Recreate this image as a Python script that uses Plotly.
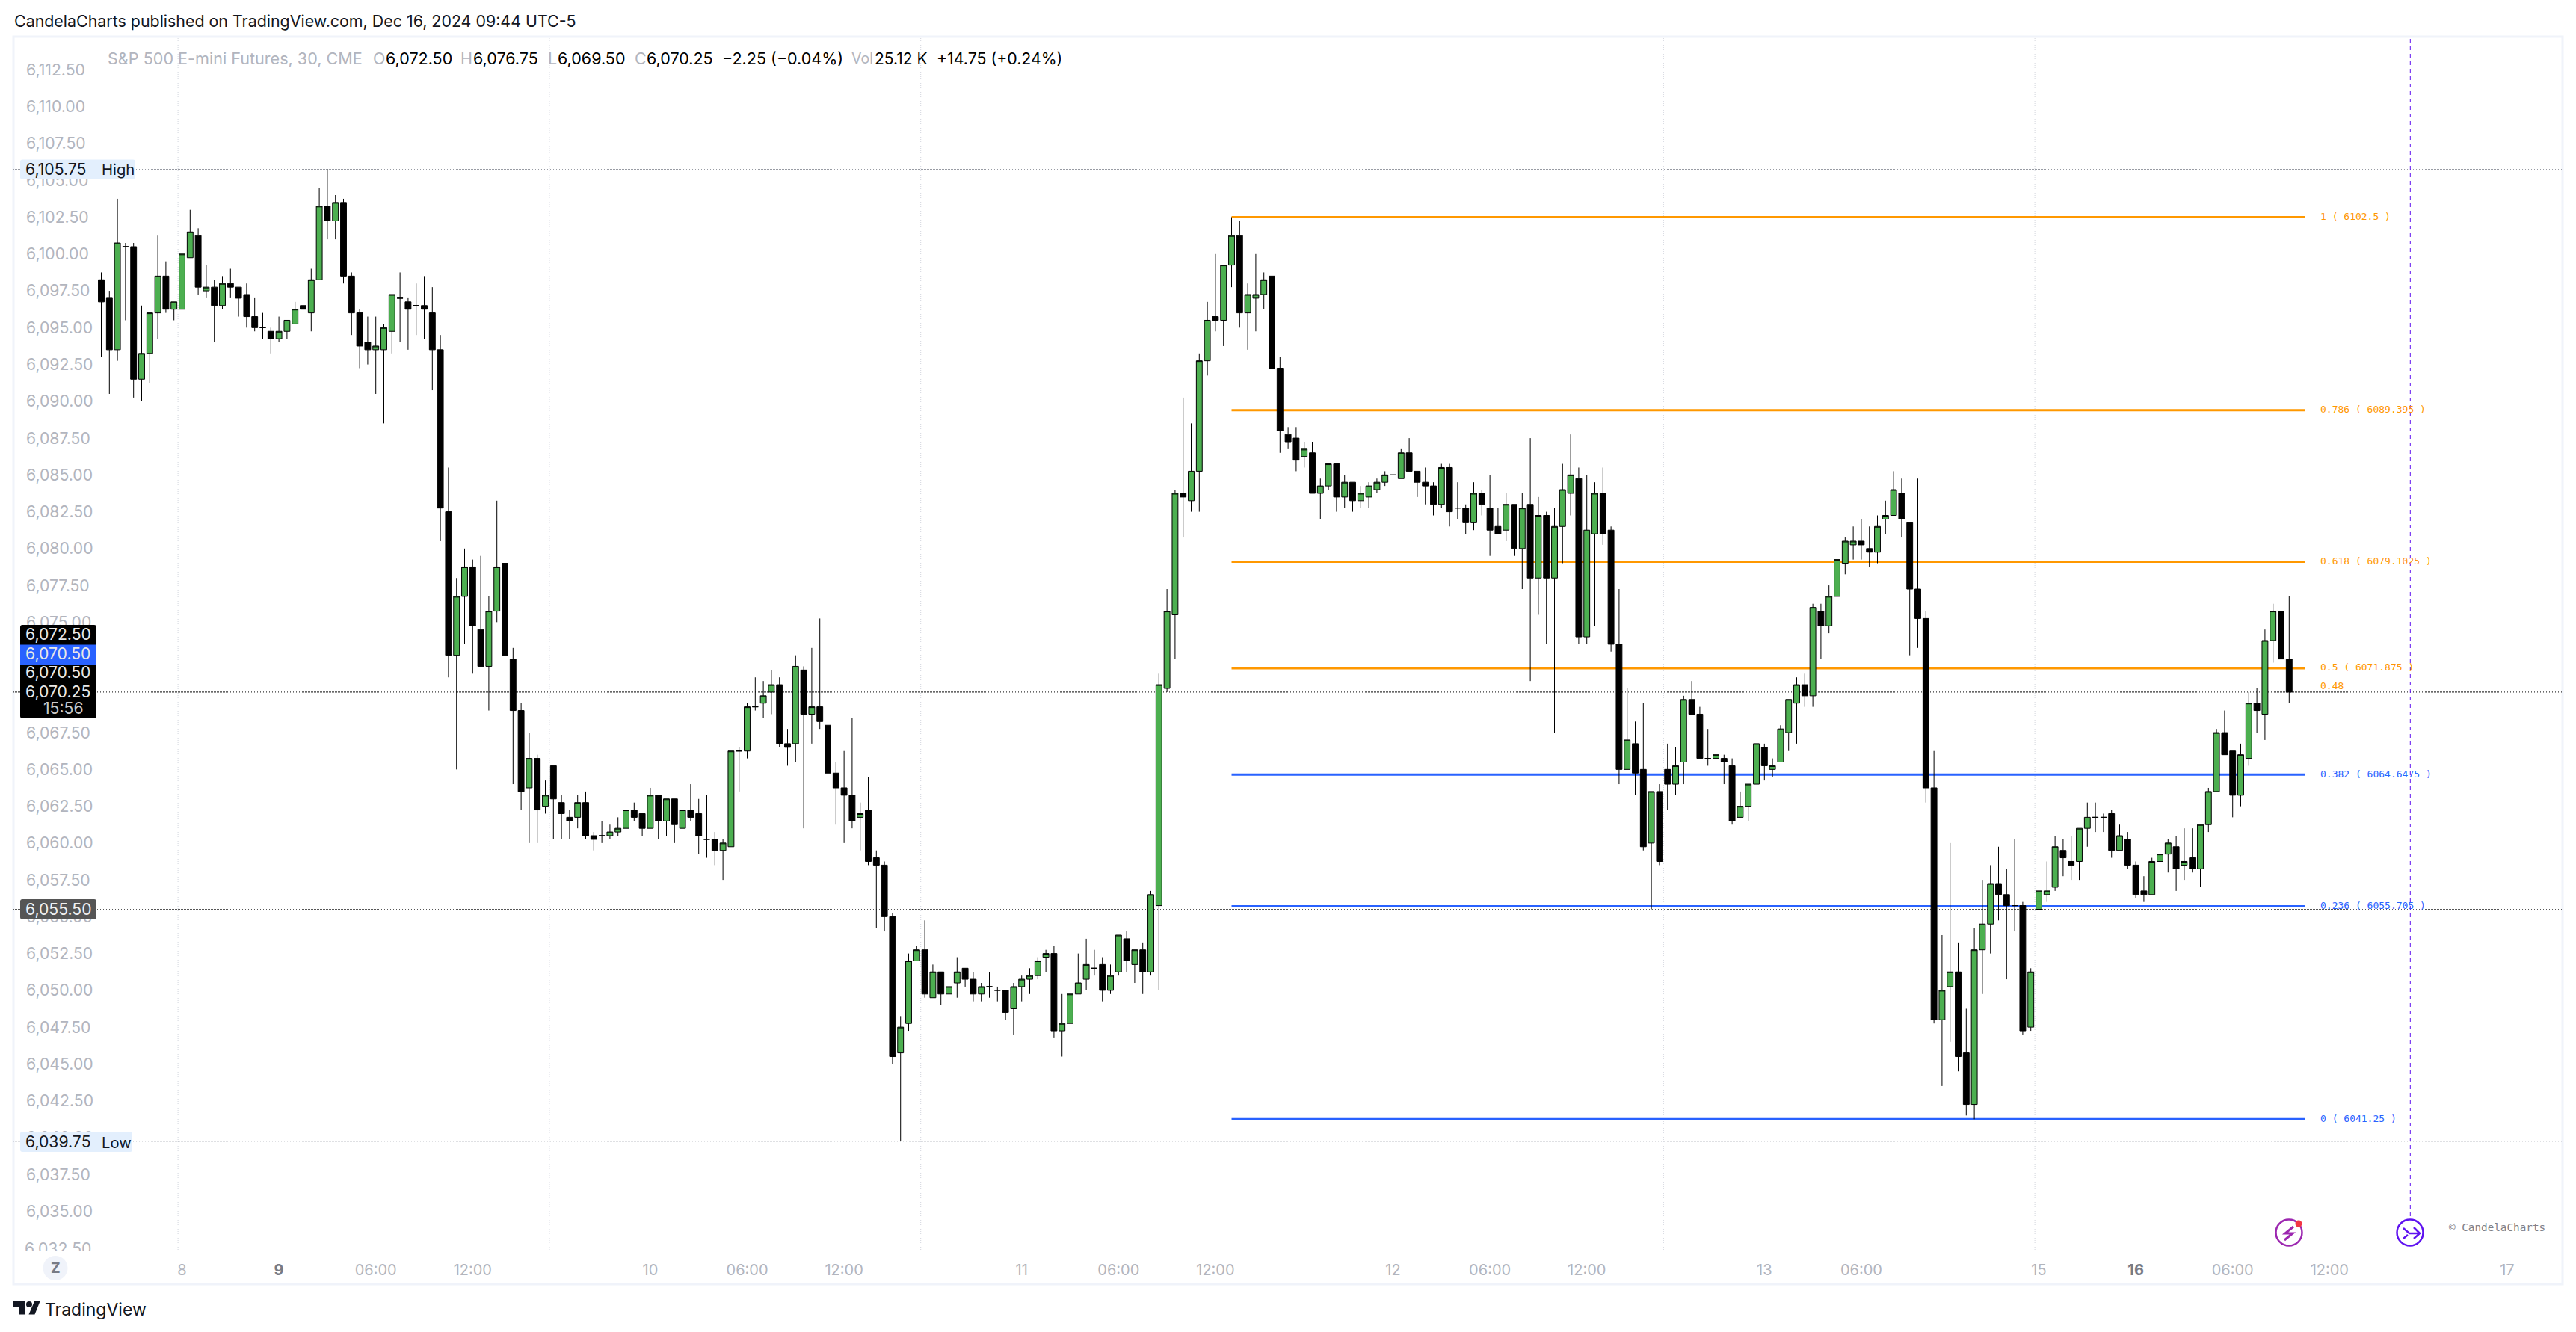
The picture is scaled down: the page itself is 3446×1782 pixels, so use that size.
import plotly.graph_objects as go

W, H = 3446, 1782
L, R, T, B = 18, 18, 51, 110

opens = [
6098.25,6097,6093.5,6100.5,6100.5,6091.5,6093.25,6096,6098.5,6096.25,
6096.25,6099.75,6101.25,6097.5,6097.75,6096.5,6098,6097.75,6097.25,6095.75,
6095,6094.75,6094.25,6094.75,6095.25,6096.5,6096,6098.25,6103.25,6102.25,
6103.5,6098.5,6096,6094,6093.5,6093.5,6094.75,6097,6096.75,6096.5,
6096.5,6096,6093.5,6082.5,6072.75,6076.75,6078.75,6074.5,6072,6075.75,
6079,6072.5,6069,6063.75,6065.75,6062.5,6065.25,6062.75,6061.75,6061.75,
6062.75,6060.5,6060.5,6060.5,6060.75,6061,6062.25,6062,6061,6063.25,
6061.5,6063,6061,6062.25,6062,6060.25,6060.25,6059.5,6059.75,6066.25,
6066.25,6069.25,6069.5,6070.25,6070.75,6066.75,6066.75,6071.75,6068.75,6069.25,
6068,6064.75,6063.75,6063.25,6061.75,6062.25,6059,6058.5,6055,6045.75,
6047.75,6052,6052.75,6049.5,6051.25,6049.75,6050.5,6051.5,6050.75,6049.75,
6050.25,6050,6050,6048.75,6050.25,6050.75,6051,6052.25,6052.5,6047.25,
6047.75,6049.75,6050.75,6051.5,6051.75,6050,6051.25,6053.5,6051.75,6052.75,
6051.25,6055.75,6070.5,6075.5,6083.75,6083.25,6085.25,6092.75,6095.75,6095.5,
6099.25,6101.25,6096,6097,6097.25,6098.5,6092.25,6087.75,6087.5,6086.25,
6086.5,6083.75,6084.25,6085.75,6083.5,6084.5,6083.25,6083.5,6084,6084.5,
6085,6084.75,6086.5,6085.25,6084.5,6084.25,6083,6085.5,6082.75,6082.75,
6081.75,6083.75,6082.75,6081.5,6081.25,6083,6080,6083,6078,6082.25,
6078,6081.5,6083.75,6084.75,6074,6081,6083.75,6081.25,6073.5,6065,
6066.75,6065,6060,6063.5,6065,6064,6065.5,6069.75,6068.75,6065.75,
6065.75,6065.75,6065.25,6061.75,6062.5,6064,6066.5,6065,6065.5,6067.5,
6069.5,6070.75,6070,6075.75,6074.75,6076.75,6079,6080.25,6080.5,6080,
6079.75,6082,6082.25,6083.75,6081.75,6077.25,6075.25,6063.75,6048,6050.25,
6051.25,6045.75,6042.25,6052.75,6054.5,6057.25,6056.5,6055.75,6055.75,6047.5,
6055.5,6056.5,6057,6059.5,6058.75,6058.75,6061,6061.75,6061.75,6062,
6059.5,6060.25,6058.5,6056.75,6056.5,6058.75,6059.25,6059.75,6058.5,6059,
6058.25,6061.25,6063.5,6067.5,6066.25,6063.25,6065.75,6069.5,6068.75,6073.75,
6075.75,6072.5]

highs = [
6098.75,6097.5,6103.75,6100.75,6100.75,6096.5,6096,6101.25,6099.5,6096.75,
6100.5,6103,6101.75,6099.25,6098.25,6098.5,6099,6097.75,6098,6097,
6096,6095,6095.75,6095.5,6096.75,6097.25,6099,6104.5,6105.75,6104,
6103.75,6098.75,6096.25,6095.75,6095.75,6095.25,6097.25,6098.75,6097,6098,
6098.5,6097.75,6094.5,6085.5,6078,6080,6079.25,6079.5,6076.75,6083.25,
6079,6073.25,6069.5,6067.5,6066,6064.25,6065.25,6063.25,6062.25,6063.25,
6063.5,6060.75,6061.5,6061.25,6061.75,6063,6062.75,6062,6063.75,6063.25,
6063,6063,6062.25,6064,6063,6063.25,6060.75,6060.25,6066.25,6066.5,
6069.5,6071.25,6071,6071.75,6071.25,6067.75,6072.75,6072,6073.25,6075.25,
6071,6065.5,6066.25,6068.5,6062.75,6064.5,6059.5,6058.75,6055.25,6048.25,
6052.5,6053,6054.75,6051.75,6051.25,6052,6052.25,6051.5,6051.25,6050.5,
6051.25,6050.25,6050,6050.5,6051,6051.5,6052.25,6052.75,6053,6049.75,
6050.75,6052.5,6053.5,6052.75,6052.25,6051.75,6053.75,6054,6052.75,6053.25,
6056.75,6071.5,6077.25,6084,6090.25,6088.5,6093.25,6096.75,6100,6099.25,
6102.5,6102.25,6098,6100,6098.75,6098.5,6093,6088.25,6088.25,6087.25,
6087.25,6084.75,6085.75,6085.75,6085,6084.5,6084.25,6084.5,6084.75,6085.25,
6085.5,6086.75,6087.5,6085.25,6085.5,6084.5,6085.75,6085.75,6084.5,6083,
6084.5,6084,6085,6082.75,6083.75,6083,6083.75,6087.5,6083.5,6082.5,
6082.75,6085.75,6087.75,6085.5,6085,6084.5,6085.5,6081.5,6077.25,6070.5,
6068.25,6069.5,6063.5,6064,6066.75,6066.5,6070,6071,6069.25,6067.75,
6066.5,6066,6065.75,6063.5,6064,6066.75,6066.75,6065.75,6068,6069.75,
6071.25,6071.5,6076.25,6076.25,6077.5,6079.25,6080.75,6081.5,6082,6081.5,
6082.25,6083.25,6085.25,6084.75,6081.75,6084.75,6075.75,6066.25,6053.75,6060,
6053.25,6048.75,6054.25,6057.5,6058.5,6059.75,6058.25,6060.25,6056,6051.5,
6057.5,6058.75,6060.5,6060.25,6060.5,6061,6062.75,6062.75,6062,6062.25,
6061.25,6060.75,6058.75,6057.75,6059,6059.25,6060.25,6060.5,6061,6061,
6061.25,6063.75,6067.75,6069,6066.25,6066.75,6070.25,6070.5,6074.5,6076.25,
6076.75,6076.75]

lows = [
6093,6090.5,6092.75,6095.5,6090.25,6090,6091.25,6094.25,6096,6095.5,
6095.25,6099.75,6097.25,6097,6094,6096.25,6097,6095.75,6095,6094.75,
6094.25,6093.25,6094,6094.25,6095.25,6095.75,6094.75,6098.25,6101,6101,
6098,6094.5,6092.25,6092.5,6090.5,6088.5,6093.25,6094,6093.5,6094.5,
6094.25,6090.75,6080.5,6071.25,6065,6073.5,6071.5,6072,6069,6075,
6071.25,6064,6062.25,6060,6060,6062,6060.25,6060.25,6060.25,6061,
6060.25,6059.5,6060,6060.25,6060.5,6060.5,6061.5,6060.5,6061,6060.25,
6060.5,6060,6061,6061.5,6059.25,6059,6058.5,6057.5,6059.75,6063.5,
6065.75,6069,6068.5,6068.75,6066.5,6065.25,6065.5,6061,6066.75,6067.75,
6063.75,6061.25,6060,6061,6059.5,6058.5,6054.25,6054,6045,6039.75,
6047.25,6052,6049.5,6049.5,6049,6048.25,6049.5,6050.25,6049.25,6049.25,
6049.5,6049.25,6048,6047,6049.25,6049.75,6050.75,6051.25,6046.75,6045.5,
6047.25,6049.75,6050,6051,6049.25,6049.75,6051,6051.25,6050.5,6049.75,
6051,6050,6070.25,6072.5,6080.75,6082.5,6082.5,6091.75,6094.75,6093.75,
6097.75,6095,6093.5,6094.75,6096.25,6090.25,6086.5,6086.75,6085.25,6085.5,
6083.75,6082,6084,6082.5,6082.75,6082.5,6082.75,6082.75,6083.75,6084.25,
6084.25,6084.75,6085.25,6083.5,6083,6082.25,6082.75,6081.5,6082,6081,
6081.25,6082.25,6079.5,6081,6080.5,6079.5,6077.25,6071,6075.5,6073.5,
6067.5,6079,6082.25,6073.5,6073.5,6074.75,6080.25,6073,6064,6065,
6063.25,6059.5,6055.5,6058.5,6062.25,6063.25,6064,6068.75,6065.75,6065.25,
6060.75,6064,6061.25,6061.75,6061.5,6064,6064.25,6064.5,6065.5,6066.25,
6066.75,6069.25,6069.25,6072.5,6074.25,6074.75,6078.25,6079.25,6079.25,6078.75,
6079,6081,6082.25,6080.75,6072.75,6073.25,6062.75,6047.75,6043.5,6046.5,
6044.5,6041.5,6041.25,6049.75,6052.5,6054.75,6050.75,6054,6047,6047.25,
6051.5,6056,6056.75,6057.75,6057.5,6057.5,6059.75,6060.75,6060.75,6059,
6059.5,6058.25,6056.25,6056,6056.5,6057.5,6058,6056.75,6057.5,6058,
6057,6060.75,6063.5,6066,6061.75,6062.5,6065.25,6067.5,6067,6072.25,
6068.75,6069.5]

closes = [
6096.75,6093.5,6100.75,6100.5,6091.5,6093.25,6096,6098.5,6096.25,6096.75,
6100,6101.5,6097.75,6097.75,6096.5,6098,6097.75,6097,6095.75,6095,
6095,6094.25,6094.75,6095.5,6096.25,6096.25,6098.25,6103.25,6102.25,6103.5,
6098.5,6096,6093.75,6093.5,6093.75,6095,6097.25,6097,6096.25,6096.5,
6096.25,6093.5,6082.75,6072.75,6076.75,6078.75,6074.75,6072,6075.75,6078.75,
6072.75,6069,6063.5,6065.75,6062.25,6063.25,6063,6062,6061.5,6062.75,
6060.5,6060.25,6060.5,6060.75,6061,6062.25,6061.75,6061,6063.25,6061.5,
6063,6061.25,6062.25,6061.75,6060.5,6060.25,6059.5,6060,6066.25,6066.25,
6069.25,6069.25,6070,6070.75,6066.75,6066.5,6072,6068.75,6069.25,6068.25,
6064.75,6063.75,6063.25,6061.5,6062,6058.75,6058.5,6055,6045.5,6047.5,
6052,6052.75,6049.75,6051.25,6049.75,6050.25,6051.25,6050.75,6049.75,6050.25,
6050.25,6050,6048.5,6050.25,6050.75,6051,6052,6052.5,6047.25,6047.75,
6049.75,6050.5,6051.75,6051.5,6050,6051,6053.75,6052,6052.75,6051.25,
6056.5,6070.75,6075.75,6083.75,6083.5,6085.25,6092.75,6095.5,6095.5,6099.25,
6101.25,6096,6097.25,6097.25,6098.25,6092.25,6088,6087.25,6086,6086.75,
6083.75,6084.25,6085.75,6083.5,6084.5,6083.25,6083.75,6084.25,6084.5,6085,
6085,6086.5,6085.25,6084.5,6084.25,6083,6085.5,6082.5,6082.75,6081.75,
6083.75,6083,6081.25,6081,6083,6080,6082.75,6078,6082.25,6078,
6081.5,6084,6085,6074,6081.25,6083.75,6081,6073.5,6065,6067,
6064.75,6059.75,6063.5,6058.75,6064,6065.25,6069.75,6068.75,6065.75,6065.75,
6066,6065.5,6061.5,6062.5,6064,6066.75,6065.25,6065.25,6067.75,6069.75,
6070.75,6070,6076,6074.75,6076.75,6079.25,6080.5,6080.5,6080.25,6079.75,
6081.5,6082.25,6084,6082,6077.25,6075.25,6063.75,6048,6050,6051.25,
6045.5,6042.25,6052.75,6054.5,6057.25,6056.5,6055.75,6055.75,6047.25,6051.25,
6056.75,6056.75,6059.75,6059,6058.5,6061,6061.75,6061.75,6061.75,6059.5,
6060.5,6058.5,6056.5,6056.5,6058.75,6059.25,6060,6058.25,6058.75,6058.25,
6061.25,6063.5,6067.5,6066,6063.25,6066,6069.5,6069,6073.75,6075.75,
6072.5,6070.25]

bar_index = list(range(len(opens)))

# time axis, in bar numbers
time_tick_bars = [10, 22, 34, 46, 68, 80, 92, 114, 126, 138, 160, 172, 184, 206, 218, 240, 252, 264, 276, 298]
time_tick_labels = ["8", "<b style='color:#787b86'>9</b>", "06:00", "12:00", "10", "06:00", "12:00", "11", "06:00", "12:00",
                    "12", "06:00", "12:00", "13", "06:00", "15", "<b style='color:#787b86'>16</b>", "06:00", "12:00", "17"]
session_bars = [9.5, 55.5, 101.5, 147.5, 193.5, 239.5]
x_range = [-10.88, 304.86]

# price axis
y_range = [6032.38, 6114.66]
price_ticks = [6035 + 2.5 * i for i in range(32)]

# Fibonacci levels
fib_ratio = ["1", "0.786", "0.618", "0.5", "0.382", "0.236", "0"]
fib_price = [6102.5, 6089.395, 6079.1025, 6071.875, 6064.6475, 6055.705, 6041.25]
fib_color = ["#ff9800", "#ff9800", "#ff9800", "#ff9800", "#2962ff", "#2962ff", "#2962ff"]
fib_start_bar, fib_end_bar = 140, 273
fib_extra_label, fib_extra_price = "0.48", 6070.65

day_high, day_low = 6105.75, 6039.75
last_price, ref_price = 6070.25, 6055.5
future_bar = 286

TF = 21.2   # price / legend text size
XF = 20     # time axis text size
FIBF = 13


def px(x):
    return (x - L) / (W - L - R)


def py(y):
    return 1 - (y - T) / (H - T - B)


def P(*pts):
    """pixel path -> paper path: tuples are points, strings are commands"""
    out = []
    for p in pts:
        if isinstance(p, str):
            out.append(p)
        else:
            out.append(f"{px(p[0]):.6f},{py(p[1]):.6f}")
    return " ".join(out)


shapes = []
annotations = []


def ptext(txt, x, y, size, color, family="Inter, sans-serif", anchor="left"):
    annotations.append(dict(text=txt, xref="paper", yref="paper", x=px(x), y=py(y), xanchor=anchor, yanchor="middle",
                            showarrow=False, borderpad=0, font=dict(family=family, size=size, color=color)))


def rrect(x0, y0, x1, y1, color, r=3):
    shapes.append(dict(type="path", xref="paper", yref="paper", layer="above", fillcolor=color, line=dict(width=0),
                       path=P("M", (x0 + r, y0), "L", (x1 - r, y0), "Q", (x1, y0), (x1, y0 + r), "L", (x1, y1 - r),
                              "Q", (x1, y1), (x1 - r, y1), "L", (x0 + r, y1), "Q", (x0, y1), (x0, y1 - r), "L", (x0, y0 + r),
                              "Q", (x0, y0), (x0 + r, y0), "Z")))


def circle(cx, cy, r, line=None, fill=None, width=3):
    shapes.append(dict(type="circle", xref="paper", yref="paper", layer="above",
                       x0=px(cx - r), x1=px(cx + r), y0=py(cy + r), y1=py(cy - r),
                       line=dict(color=line, width=width if line else 0), fillcolor=fill))


def ppath(pts, color, width=3, fill=None):
    shapes.append(dict(type="path", xref="paper", yref="paper", layer="above", path=P(*pts),
                       line=dict(color=color, width=width), fillcolor=fill))


# outer frame
shapes.append(dict(type="rect", xref="paper", yref="paper", layer="below", x0=px(18), x1=px(3428), y0=py(1718), y1=py(49),
                   line=dict(color="#f0f3fa", width=3), fillcolor="rgba(0,0,0,0)"))

# session separators
for b in session_bars:
    shapes.append(dict(type="line", layer="below", xref="x", yref="paper", x0=b, x1=b, y0=0, y1=1,
                       line=dict(color="#d1d4dc", width=1, dash="1px,2px")))

# price lines
for val, col in [(day_high, "#9598a1"), (day_low, "#9598a1"), (last_price, "#000000"), (ref_price, "#555555")]:
    shapes.append(dict(type="line", layer="below", xref="paper", yref="y", x0=0, x1=1, y0=val, y1=val,
                       line=dict(color=col, width=1, dash="1px,1px")))

# Fibonacci lines and labels
for r_, p_, c_ in zip(fib_ratio, fib_price, fib_color):
    shapes.append(dict(type="line", layer="below", xref="x", yref="y", x0=fib_start_bar, x1=fib_end_bar, y0=p_, y1=p_,
                       line=dict(color=c_, width=3)))
    annotations.append(dict(text=f"{r_} ( {p_} )", xref="paper", yref="y", x=px(3102), y=p_, yshift=1,
                            xanchor="left", yanchor="middle", showarrow=False,
                            font=dict(family="DejaVu Sans Mono", size=FIBF, color=c_)))
annotations.append(dict(text=fib_extra_label, xref="paper", yref="y", x=px(3102), y=fib_extra_price, yshift=1,
                        xanchor="left", yanchor="middle", showarrow=False,
                        font=dict(family="DejaVu Sans Mono", size=FIBF, color="#ff9800")))

# future marker
shapes.append(dict(type="line", layer="below", xref="x", yref="paper", x0=future_bar, x1=future_bar, y0=py(1627), y1=1,
                   line=dict(color="#5f12f0", width=1, dash="5px,5px")))

# lowest price label, cut by the bottom of the pane as in the chart
annotations.append(dict(text="6,032.50", xref="paper", yref="paper", x=px(32), y=py(1656), xanchor="left", yanchor="top",
                        height=16, valign="top", showarrow=False, borderpad=0,
                        font=dict(family="Inter, sans-serif", size=TF, color="#b2b5be")))

# high / low / price badges
rrect(27, 213.5, 181, 240, "#e3effd")
ptext("6,105.75", 33, 225.5, TF, "#131722")
ptext("High", 135, 226.5, TF - 1, "#131722")
rrect(27, 1514, 177, 1541, "#e3effd")
ptext("6,039.75", 33, 1526.5, TF, "#131722")
ptext("Low", 135, 1528, TF - 1, "#131722")
rrect(27, 1203, 129, 1230, "#555555")
ptext("6,055.50", 33, 1215.5, TF, "#f0f0f0")
rrect(27, 836, 129, 961, "#000000")
shapes.append(dict(type="rect", xref="paper", yref="paper", layer="above", x0=px(27), x1=px(129), y0=py(889), y1=py(862.5),
                   line=dict(width=0), fillcolor="#2962ff"))
ptext("6,072.50", 33, 848, TF, "#e8e8e8")
ptext("6,070.50", 33, 874, TF, "#e8e8e8")
ptext("6,070.50", 33, 899, TF, "#e8e8e8")
ptext("6,070.25", 33, 925, TF, "#e8e8e8")
ptext("15:56", 113, 946.5, TF, "#c8c8c8", anchor="right")

# header / legend
ptext("CandelaCharts published on TradingView.com, Dec 16, 2024 09:44 UTC-5", 18, 28.5, 21.4, "#131722")
GR = "#b2b5be"
ptext("S&amp;P 500 E-mini Futures, 30, CME", 142.5, 78, 21.6, GR)
for lab, lx, val, vx in [("O", 498, "6,072.50", 515), ("H", 615, "6,076.75", 632), ("L", 732, "6,069.50", 745), ("C", 848, "6,070.25", 864)]:
    ptext(lab, lx, 78, 21.5, GR)
    ptext(val, vx, 78, 21.5, "#000000")
ptext("−2.25 (−0.04%)", 965, 78, 21.5, "#000000")
ptext("Vol", 1138, 78, 19.5, GR)
ptext("25.12 K", 1169, 78, 21, "#000000")
ptext("+14.75 (+0.24%)", 1252, 78, 21.3, "#000000")

# zoom button
circle(74, 1696.5, 16.5, fill="#f0f3fa")
ptext("<b>Z</b>", 74, 1696.5, 19, "#787b86", anchor="center")

# branding
ppath(["M", (18, 1741), "H", f"{px(34):.6f}", "V", f"{py(1758.5):.6f}", "H", f"{px(26):.6f}", "V", f"{py(1749):.6f}",
       "H", f"{px(18):.6f}", "Z"], "#131722", width=0, fill="#131722")
circle(39, 1745, 4, fill="#131722")
ppath(["M", (46, 1741), "L", (53.5, 1741), "L", (46.5, 1758.5), "L", (38.5, 1758.5), "Z"], "#131722", width=0, fill="#131722")
ptext("TradingView", 59, 1752, 23, "#131722")
ptext("© CandelaCharts", 3275, 1642, 14.3, "#808088", family="DejaVu Sans Mono")

# chart icons
circle(3062, 1649, 17.5, line="#9c27b0", width=2.5)
ppath(["M", (3068, 1641), "L", (3057, 1650), "L", (3067, 1650), "L", (3056, 1659)], "#9c27b0", width=3)
circle(3075, 1637, 4.5, fill="#f23645")
circle(3224, 1649, 17.5, line="#5f12f0", width=2.5)
ppath(["M", (3215, 1643), "L", (3223, 1650), "L", (3236, 1650), "M", (3229, 1642), "L", (3237, 1650), "L", (3229, 1657),
       "M", (3215, 1657), "L", (3221, 1652)], "#5f12f0", width=2.5)

fig = go.Figure(go.Candlestick(
    x=bar_index, open=opens, high=highs, low=lows, close=closes, whiskerwidth=0, hoverinfo="skip",
    increasing=dict(fillcolor="#4caf50", line=dict(color="#000000", width=1)),
    decreasing=dict(fillcolor="#000000", line=dict(color="#000000", width=1)),
))

fig.update_layout(
    width=W, height=H, margin=dict(l=L, r=R, t=T, b=B, pad=0), paper_bgcolor="#ffffff", plot_bgcolor="#ffffff",
    showlegend=False, boxgap=0.27, boxgroupgap=0, shapes=shapes, annotations=annotations,
    font=dict(family="Inter, sans-serif", color=GR),
    xaxis=dict(range=x_range, tickmode="array", tickvals=time_tick_bars, ticktext=time_tick_labels, showgrid=False,
               zeroline=False, showline=False, ticks="", rangeslider=dict(visible=False), ticklabelstandoff=13,
               tickfont=dict(family="Inter, sans-serif", size=XF, color=GR), tickangle=0),
    yaxis=dict(range=y_range, tickmode="array", tickvals=price_ticks, ticktext=[f"{v:,.2f}" for v in price_ticks],
               showgrid=False, zeroline=False, showline=False, ticks="", side="left", ticklabelposition="inside",
               ticklabelstandoff=14, tickfont=dict(family="Inter, sans-serif", size=TF, color=GR)),
)

fig.write_html("out.html", config=dict(displayModeBar=False, responsive=False),
               post_script="document.body.style.margin='0';document.body.style.overflow='hidden';")
